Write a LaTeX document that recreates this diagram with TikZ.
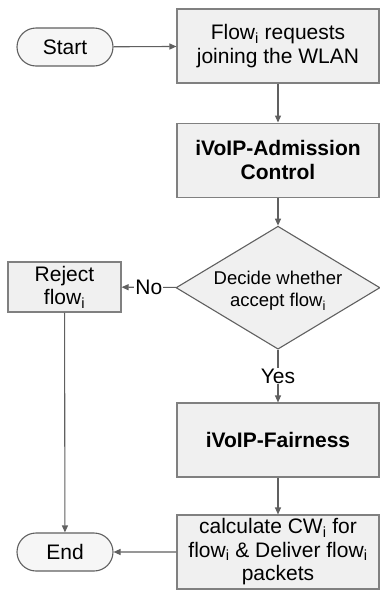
\documentclass[tikz,border=0pt]{standalone}
\usepackage{fontspec}
\setmainfont{Liberation Sans}
\usetikzlibrary{positioning,shapes.geometric,shapes.misc,arrows.meta}
\definecolor{linegray}{HTML}{606060}
\definecolor{boxgray}{HTML}{F0F0F0}
\begin{document}
\begin{tikzpicture}[x=1pt,y=-1pt,
  font=\fontsize{21}{23.5}\selectfont,
  line width=1.1pt,
  terminal/.style={rounded rectangle,draw=linegray,fill=boxgray!60,
    minimum width=96pt,minimum height=38pt,inner sep=0pt},
  process/.style={rectangle,draw=linegray!80,fill=boxgray,
    minimum width=202pt,minimum height=74pt,inner sep=0pt,align=center},
  decision/.style={diamond,draw=linegray,fill=boxgray,
    minimum width=204pt,minimum height=123pt,inner sep=0pt},
  flowarrow/.style={draw=linegray,-{Triangle[length=7pt,width=6pt]}},
  choice/.style={fill=white,inner sep=1pt}]
  \useasboundingbox (0,0) rectangle (380,590);
  \node[terminal] (start) at (65,47) {Start};
  \node[process] (request) at (278,46) {Flow\textsubscript{i} requests\\joining the WLAN};
  \node[process,below=39pt of request,font=\fontsize{21}{23.5}\selectfont\bfseries] (admission) {iVoIP-Admission\\Control};
  \node[decision,below=28pt of admission,
    label={[align=center,yshift=-3pt,font=\fontsize{18.5}{22.5}\selectfont]center:Decide whether\\accept flow\textsubscript{i}}] (decide) {};
  \node[process,minimum width=113pt,minimum height=50pt] (reject) at (64.5,287) {Reject\\flow\textsubscript{i}};
  \node[process,font=\fontsize{21}{23.5}\selectfont\bfseries] (fairness) at (278,440) {iVoIP-Fairness};
  \node[process] (calculate) at (278,552) {calculate CW\textsubscript{i} for\\flow\textsubscript{i} \& Deliver flow\textsubscript{i}\\packets};
  \node[terminal] (end) at (65,552) {End};

  \draw[flowarrow] (start) -- (request);
  \draw[flowarrow] (request) -- (admission);
  \draw[flowarrow] (admission) -- (decide);
  \draw[flowarrow] (decide) -- node[choice] {No} (reject);
  \draw[flowarrow] (decide) -- node[choice] {Yes} (fairness);
  \draw[flowarrow] (fairness) -- (calculate);
  \draw[flowarrow] (reject) -- (end);
  \draw[flowarrow] (calculate) -- (end);
\end{tikzpicture}
\end{document}
